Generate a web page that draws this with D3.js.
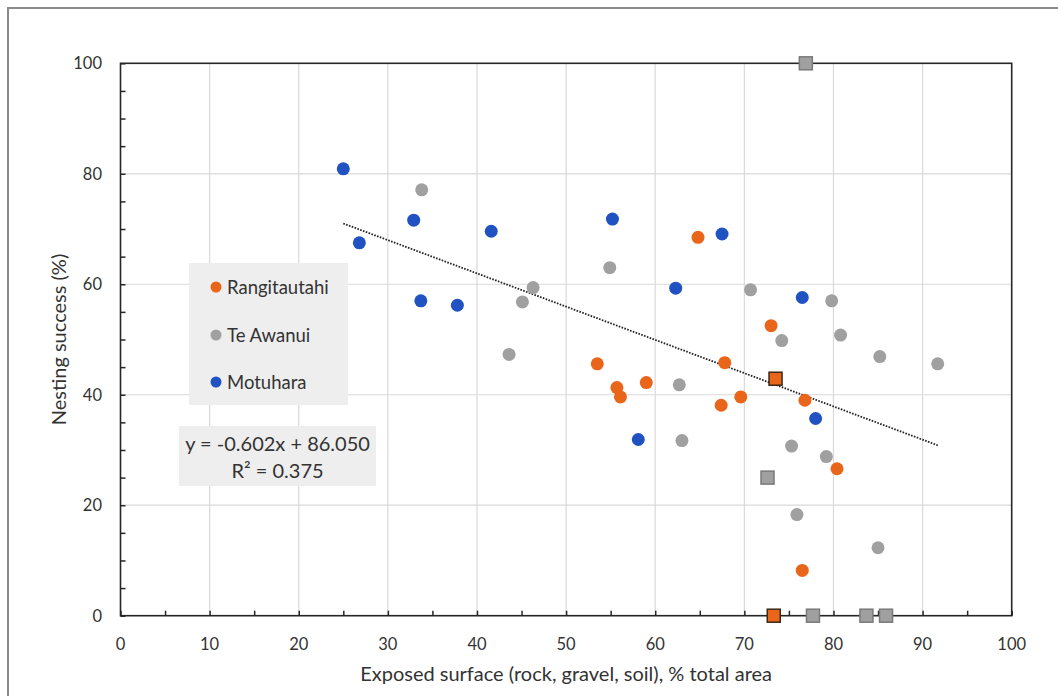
<!DOCTYPE html>
<html>
<head>
<meta charset="utf-8">
<script src="https://cdn.jsdelivr.net/npm/d3@7"></script>
<style>
  body { margin: 0; background: #fff; }
  text { font-family: Lato, "Open Sans", sans-serif; fill: #333; }
</style>
</head>
<body>
<div id="chart"></div>
<script>
// Rangitautahi
var rangiCircles = [[53.5,45.6],[55.7,41.3],[56.1,39.6],[59.0,42.2],[64.8,68.5],[67.4,38.1],[67.8,45.8],[69.6,39.6],[73.0,52.5],[76.5,8.2],[76.8,39.0],[80.4,26.6]];
var rangiSquares = [[73.5,42.9],[73.3,0]];
// Te Awanui
var teCircles = [[33.8,77.1],[43.6,47.3],[45.1,56.8],[46.3,59.4],[54.9,63.0],[62.7,41.8],[63.0,31.7],[70.7,59.0],[74.2,49.8],[75.3,30.7],[75.9,18.3],[79.2,28.8],[79.8,57.0],[80.8,50.8],[85.0,12.3],[85.2,46.9],[91.7,45.6]];
var teSquares = [[76.9,100],[72.6,25],[77.7,0],[83.7,0],[85.9,0]];
// Motuhara
var motuCircles = [[25.0,80.9],[26.8,67.5],[32.9,71.6],[33.7,57.0],[37.8,56.2],[41.6,69.6],[55.2,71.8],[58.1,31.9],[62.3,59.3],[67.5,69.1],[76.5,57.6],[78.0,35.7]];

var seriesNames = ["Rangitautahi", "Te Awanui", "Motuhara"];
var seriesColors = ["#e8651a", "#a0a0a0", "#2052c2"];
var slope = -0.602, intercept = 86.050, trendFrom = 25.0, trendTo = 91.7;
var xTicks = d3.range(0, 101, 10);
var yTicks = d3.range(0, 101, 20);

var W = 1058, H = 696;
var svg = d3.select("#chart").append("svg").attr("width", W).attr("height", H);

// outer frame (runs off the right/bottom)
svg.append("rect").attr("x", 8).attr("y", 8).attr("width", W + 20).attr("height", H + 20)
    .attr("fill", "none").attr("stroke", "#8a8a8a").attr("stroke-width", 2);

var x = d3.scaleLinear().domain([0, 100]).range([120.5, 1011.7]);
var y = d3.scaleLinear().domain([0, 100]).range([615.7, 63.3]);

// gridlines
svg.append("g").selectAll("line").data(xTicks.slice(1, -1)).enter().append("line")
    .attr("x1", function(d) { return x(d); }).attr("x2", function(d) { return x(d); })
    .attr("y1", y(0)).attr("y2", y(100))
    .attr("stroke", "#d9d9d9").attr("stroke-width", 1.2);
svg.append("g").selectAll("line").data(yTicks.slice(1, -1)).enter().append("line")
    .attr("x1", x(0)).attr("x2", x(100))
    .attr("y1", function(d) { return y(d); }).attr("y2", function(d) { return y(d); })
    .attr("stroke", "#d9d9d9").attr("stroke-width", 1.2);

// plot frame
svg.append("rect").attr("x", x(0)).attr("y", y(100))
    .attr("width", x(100) - x(0)).attr("height", y(0) - y(100))
    .attr("fill", "none").attr("stroke", "#262626").attr("stroke-width", 1.6);

// axes: ticks pointing inside, every 5
var xAxis = svg.append("g").attr("transform", "translate(0," + y(0) + ")")
    .call(d3.axisBottom(x).tickValues(d3.range(0, 101, 5)).tickSize(-5).tickFormat(""));
xAxis.select(".domain").remove();
xAxis.selectAll("line").attr("stroke", "#262626").attr("stroke-width", 1.5);
svg.append("g").selectAll("text").data(xTicks).enter().append("text")
    .attr("x", function(d) { return x(d); }).attr("y", 650)
    .attr("text-anchor", "middle").style("font-size", "16.5px")
    .text(function(d) { return d; });

var yAxis = svg.append("g").attr("transform", "translate(" + x(0) + ",0)")
    .call(d3.axisLeft(y).tickValues(d3.range(0, 101, 5)).tickSize(-5).tickFormat(""));
yAxis.select(".domain").remove();
yAxis.selectAll("line").attr("stroke", "#262626").attr("stroke-width", 1.5);
svg.append("g").selectAll("text").data(yTicks).enter().append("text")
    .attr("x", 102).attr("y", function(d) { return y(d) + 6; })
    .attr("text-anchor", "end").style("font-size", "16.5px")
    .text(function(d) { return d; });

// axis titles
svg.append("text").attr("x", (x(0) + x(100)) / 2).attr("y", 681)
    .attr("text-anchor", "middle").style("font-size", "20px")
    .text("Exposed surface (rock, gravel, soil), % total area");
svg.append("text").attr("transform", "translate(66," + ((y(0) + y(100)) / 2) + ") rotate(-90)")
    .attr("text-anchor", "middle").style("font-size", "20px")
    .text("Nesting success (%)");

// trendline
svg.append("line")
    .attr("x1", x(trendFrom)).attr("y1", y(slope * trendFrom + intercept))
    .attr("x2", x(trendTo)).attr("y2", y(slope * trendTo + intercept))
    .attr("stroke", "#222").attr("stroke-width", 1.8).attr("stroke-dasharray", "1.6,1.4");

// points
var circleSets = [rangiCircles, teCircles, motuCircles];
var squareSets = [rangiSquares, teSquares, []];
circleSets.forEach(function(pts, i) {
  svg.append("g").selectAll("circle").data(pts).enter().append("circle")
      .attr("cx", function(d) { return x(d[0]); })
      .attr("cy", function(d) { return y(d[1]); })
      .attr("r", 6.5)
      .attr("fill", seriesColors[i]);
});
squareSets.forEach(function(pts, i) {
  svg.append("g").selectAll("rect").data(pts).enter().append("rect")
      .attr("x", function(d) { return x(d[0]) - 6.5; })
      .attr("y", function(d) { return y(d[1]) - 6.5; })
      .attr("width", 13).attr("height", 13)
      .attr("fill", seriesColors[i])
      .attr("stroke", i === 0 ? "#3a2a1a" : "#7a7a7a").attr("stroke-width", 1.5);
});

// legend
var legend = svg.append("g");
legend.append("rect").attr("x", 189).attr("y", 263).attr("width", 159).attr("height", 142)
    .attr("fill", "#eeeeee");
var legendY = [287, 335, 382];
seriesNames.forEach(function(name, i) {
  legend.append("circle").attr("cx", 216).attr("cy", legendY[i]).attr("r", 5.5)
      .attr("fill", seriesColors[i]);
  legend.append("text").attr("x", 227).attr("y", legendY[i] + 6.5)
      .style("font-size", "18.5px").text(name);
});

// equation box
var eq = svg.append("g");
eq.append("rect").attr("x", 179).attr("y", 426).attr("width", 197).attr("height", 60)
    .attr("fill", "#eeeeee");
eq.append("text").attr("x", 277.5).attr("y", 451).attr("text-anchor", "middle")
    .style("font-size", "20px").text("y = " + slope.toFixed(3) + "x + " + intercept.toFixed(3));
eq.append("text").attr("x", 277.5).attr("y", 478).attr("text-anchor", "middle")
    .style("font-size", "20px").text("R² = 0.375");
</script>
</body>
</html>
